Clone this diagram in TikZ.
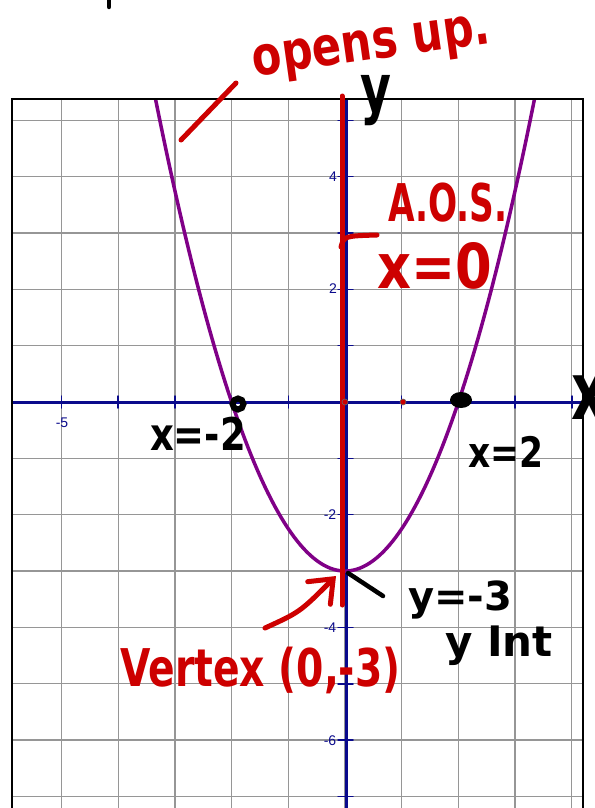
\documentclass[tikz,border=0pt]{standalone}
\usepackage{fontspec}
\setmainfont{DejaVu Sans}
\newfontfamily\labfont{Liberation Sans}
\usetikzlibrary{arrows.meta}
\definecolor{navy}{RGB}{10,10,140}
\definecolor{hred}{RGB}{205,0,0}
\definecolor{purp}{RGB}{128,0,135}
\definecolor{gridgray}{RGB}{150,150,150}
\tikzset{
  gridline/.style={draw=gridgray, line width=1.3pt},
  axisline/.style={draw=navy, line width=3pt},
  tickline/.style={draw=navy, line width=1.5pt},
  ticklabel/.style={text=navy, font=\labfont\fontsize{14}{14}\selectfont, inner sep=0pt},
  redpen/.style={draw=hred, line width=5pt, line cap=round, line join=round},
  blackpen/.style={draw=black, line width=4.5pt, line cap=round, line join=round},
  hand/.style={font=\bfseries\fontsize{#1}{#1}\selectfont, inner sep=0pt},
  redhand/.style={hand=#1, text=hred},
  blackhand/.style={hand=#1, text=black},
}
\begin{document}
\begin{tikzpicture}[x=1pt,y=-1pt, line cap=round]
\useasboundingbox (0,0) rectangle (594,808);
\fill[white] (0,0) rectangle (594,808);
% grid, axes, curve
\begin{scope}
  \clip (12,99) rectangle (583,812);
  \foreach \u in {-5,...,4} \draw[gridline] ({345+56.7*\u},99) -- ({345+56.7*\u},812);
  \foreach \v in {-7,...,5} \draw[gridline] (12,{402-56.35*\v}) -- (583,{402-56.35*\v});
  \draw[axisline] (12,402) -- (583,402);
  \draw[axisline] (346,99) -- (346,812);
  \foreach \u in {-5,...,4} \draw[tickline] ({345+56.7*\u},396) -- ({345+56.7*\u},408);
  \foreach \v in {-7,...,5} \draw[tickline] (338,{402-56.35*\v}) -- (353,{402-56.35*\v});
  \draw[purp, line width=3.5pt] plot[domain=-3.45:3.45, samples=120] ({345+56.7*\x},{402-56.35*(0.75*\x*\x-3)});
\end{scope}
\draw[black, line width=1.6pt] (12,99) rectangle (583,830);
% tick labels
\node[ticklabel] (lm5) at (62,423) {-5};
\node[ticklabel] (l4) at (333,177) {4};
\node[ticklabel] (l2) at (333,289) {2};
\node[ticklabel] (lm2) at (330,515) {-2};
\node[ticklabel] (lm4) at (330,628) {-4};
\node[ticklabel] (lm6) at (330,741) {-6};
% axis of symmetry (red)
\coordinate (aosTop) at (342,96);
\coordinate (aosBot) at (342,605);
\draw[hred, line width=5pt] (aosTop) -- (aosBot);
% small red points
\fill[hred, draw=black!60, line width=0.6pt] (345,402) circle (3);
\fill[hred, draw=black!60, line width=0.6pt] (403,402) circle (3);
% x-intercept dots
\draw[black, line width=6pt] (238,404) circle (5.5);
\fill[black] (461,400) ellipse (11 and 8);
% top mark
\coordinate (topA) at (109,0);
\coordinate (topB) at (109,7);
\draw[blackpen] (topA) -- (topB);
% opens up
\coordinate (slashA) at (181,140);
\coordinate (slashB) at (236,83);
\draw[redpen] (slashA) -- (slashB);
\node[redhand=54, rotate=8] (opens) at (372,50) {\scalebox{0.8}[1]{opens up.}};
% y and x axis letters
\node[blackhand=66] (ylab) at (376,101) {\scalebox{0.72}[1]{y}};
\node[blackhand=80] (xlab) at (590,398) {\scalebox{0.7}[1]{x}};
% A.O.S.
\coordinate (aosA) at (341,247);
\coordinate (aosB) at (377,235);
\draw[redpen] (aosA) .. controls (344,236) .. (aosB);
\node[redhand=52] (aos) at (448,203) {\scalebox{0.66}[1]{A.O.S.}};
\node[redhand=62] (xeq0) at (435,266) {\scalebox{0.85}[1]{x=0}};
% x-intercepts labels
\node[blackhand=45] (xm2) at (198,434) {\scalebox{0.82}[1]{x=-2}};
\node[blackhand=42] (x2) at (506,452) {\scalebox{0.82}[1]{x=2}};
% vertex
\coordinate (vtx) at (345,571);
\coordinate (arrTail) at (265,628);
\coordinate (arrTip) at (336,576);
\draw[redpen, -{Straight Barb[length=20pt,width=32pt,line cap=round]}] (arrTail) .. controls (300,612) .. (arrTip);
\coordinate (yintA) at (348,573);
\coordinate (yintB) at (383,596);
\draw[blackpen] (yintA) -- (yintB);
\node[blackhand=40, anchor=base west] (yeq) at (408,610) {y=-3};
\node[blackhand=42, anchor=base west] (yint) at (445,656) {y Int};
\node[redhand=52, anchor=base west] (vertex) at (120,686) {\scalebox{0.755}[1]{Vertex (0,-3)}};
\end{tikzpicture}
\end{document}
